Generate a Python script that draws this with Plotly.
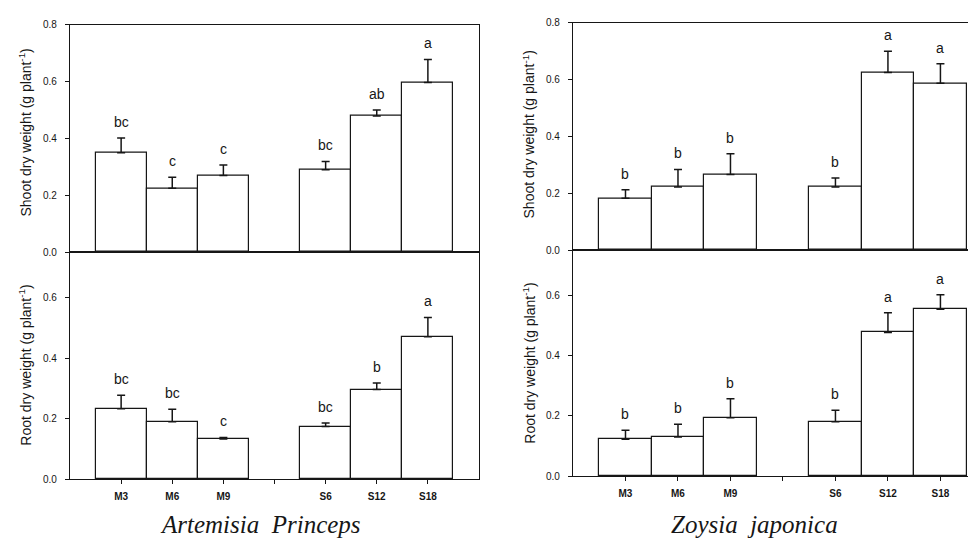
import plotly.graph_objects as go

W, H = 976, 538

positions = [1, 2, 3, 5, 6, 7]
tick_vals = [1, 2, 3, 5, 6, 7]
tick_text = ["M3", "M6", "M9", "S6", "S12", "S18"]

# Artemisia princeps
art_shoot = [0.349, 0.224, 0.269, 0.290, 0.479, 0.597]
art_shoot_se = [0.052, 0.039, 0.037, 0.029, 0.021, 0.081]
art_shoot_let = ["bc", "c", "c", "bc", "ab", "a"]
art_root = [0.233, 0.190, 0.133, 0.174, 0.296, 0.470]
art_root_se = [0.044, 0.041, 0.005, 0.012, 0.022, 0.064]
art_root_let = ["bc", "bc", "c", "bc", "b", "a"]

# Zoysia japonica
zoy_shoot = [0.182, 0.222, 0.266, 0.222, 0.625, 0.587]
zoy_shoot_se = [0.030, 0.062, 0.073, 0.032, 0.075, 0.069]
zoy_shoot_let = ["b", "b", "b", "b", "a", "a"]
zoy_root = [0.123, 0.130, 0.194, 0.181, 0.477, 0.554]
zoy_root_se = [0.030, 0.043, 0.063, 0.038, 0.065, 0.048]
zoy_root_let = ["b", "b", "b", "b", "a", "a"]

INK = "#161616"

def px_y(y):
    return 1 - y / H

fig = go.Figure()

panels = [
    (art_shoot, art_shoot_se, art_shoot_let, "x", "y"),
    (art_root, art_root_se, art_root_let, "x2", "y2"),
    (zoy_shoot, zoy_shoot_se, zoy_shoot_let, "x3", "y3"),
    (zoy_root, zoy_root_se, zoy_root_let, "x4", "y4"),
]

for vals, se, lets, xa, ya in panels:
    fig.add_trace(go.Bar(
        x=positions, y=vals, width=1.0,
        marker=dict(color="white", line=dict(color=INK, width=1.2)),
        error_y=dict(type="data", array=se, arrayminus=[0]*len(se), symmetric=False,
                     color=INK, thickness=1.5, width=4),
        xaxis=xa, yaxis=ya, showlegend=False,
    ))
    for p, v, s, t in zip(positions, vals, se, lets):
        fig.add_annotation(x=p, y=v + s, xref=xa, yref=ya, text=t, showarrow=False,
                           yanchor="bottom", yshift=6,
                           font=dict(family="Liberation Sans", size=14, color=INK))

ytickfont = dict(family="Liberation Sans", size=10, color=INK)
xtickfont = dict(family="Liberation Sans", size=10, color=INK, weight="bold")
common_y = dict(showline=True, linecolor=INK, linewidth=1.2, ticks="outside", ticklen=4,
                tickcolor=INK, tickfont=ytickfont, showgrid=False, zeroline=False,
                tickformat=".1f", fixedrange=True, ticklabelstandoff=6)
common_x = dict(showline=True, linecolor=INK, linewidth=1.2, showgrid=False, zeroline=False,
                mirror=True, tickvals=tick_vals, ticktext=tick_text, tickfont=xtickfont,
                fixedrange=True)
bottom_x = dict(ticks="outside", ticklen=4, tickcolor=INK, ticklabelstandoff=4,
                minor=dict(tickvals=[4], ticks="outside", ticklen=4, tickcolor=INK))

lx = [62 / W, 471 / W]
rx = [565 / W, 1.0]

fig.update_layout(
    width=W, height=H, margin=dict(l=0, r=0, t=0, b=0),
    paper_bgcolor="white", plot_bgcolor="white", bargap=0,
    xaxis=dict(common_x, domain=lx, range=[0, 8], anchor="y", showticklabels=False, ticks=""),
    yaxis=dict(common_y, domain=[px_y(244), px_y(12)], range=[0, 0.8], anchor="x",
               tickvals=[0, 0.2, 0.4, 0.6, 0.8], mirror=True),
    xaxis2=dict(common_x, **bottom_x, domain=lx, range=[0, 8], anchor="y2"),
    yaxis2=dict(common_y, domain=[px_y(476), px_y(244)], range=[0, 0.75], anchor="x2",
                tickvals=[0, 0.2, 0.4, 0.6], mirror=True),
    xaxis3=dict(common_x, domain=rx, range=[0, 7.83], anchor="y3", showticklabels=False, ticks=""),
    yaxis3=dict(common_y, domain=[px_y(242), px_y(10)], range=[0, 0.8], anchor="x3",
                tickvals=[0, 0.2, 0.4, 0.6, 0.8]),
    xaxis4=dict(common_x, **bottom_x, domain=rx, range=[0, 7.83], anchor="y4"),
    yaxis4=dict(common_y, domain=[px_y(473), px_y(242)], range=[0, 0.75], anchor="x4",
                tickvals=[0, 0.2, 0.4, 0.6]),
)

titlefont = dict(family="Liberation Sans", size=14, color=INK)
for xpx, ypx, txt in [
    (17, 122, "Shoot dry weight (g plant<sup>-1</sup>)"),
    (17, 360, "Root dry weight (g plant<sup>-1</sup>)"),
    (521, 124, "Shoot dry weight (g plant<sup>-1</sup>)"),
    (521, 358, "Root dry weight (g plant<sup>-1</sup>)"),
]:
    fig.add_annotation(x=xpx / W, y=px_y(ypx), xref="paper", yref="paper", text=txt,
                       showarrow=False, textangle=-90, xanchor="center", yanchor="middle",
                       font=titlefont)

serif = dict(family="Liberation Serif", size=25, color=INK)
fig.add_annotation(x=252 / W, y=px_y(522), xref="paper", yref="paper",
                   text="<i>Artemisia  Princeps</i>", showarrow=False, font=serif,
                   xanchor="center", yanchor="middle")
fig.add_annotation(x=746 / W, y=px_y(522), xref="paper", yref="paper",
                   text="<i>Zoysia  japonica</i>", showarrow=False, font=serif,
                   xanchor="center", yanchor="middle")

fig.write_html("out.html")
